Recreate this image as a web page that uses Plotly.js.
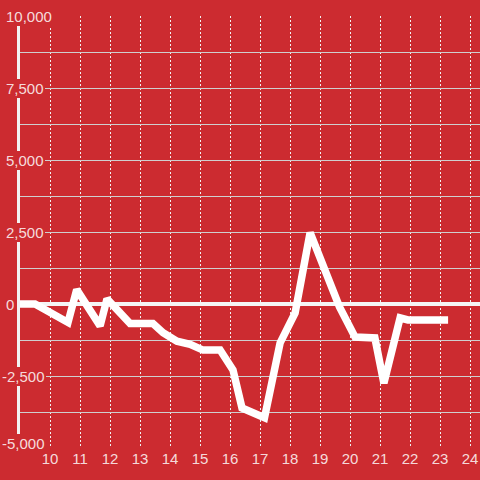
<!DOCTYPE html>
<html>
<head>
<meta charset="utf-8">
<script src="https://cdn.plot.ly/plotly-3.0.1.min.js"></script>
<style>
html,body{margin:0;padding:0;background:#cc2b30;}
#chart{width:480px;height:480px;}
</style>
</head>
<body>
<div id="chart"></div>
<script>
// Data
const xValues = [9.0, 9.5, 10.6, 10.89, 11.67, 11.9, 12.67, 13.43, 13.77, 14.23, 14.67, 15.1, 15.67, 16.1, 16.4, 17.15, 17.67, 18.17, 18.67, 19.17, 19.65, 20.17, 20.83, 21.13, 21.67, 21.93, 23.27];
const yValues = [0, 0, -640, 500, -760, 180, -680, -680, -1000, -1290, -1400, -1600, -1600, -2290, -3610, -3950, -1350, -310, 2480, 1100, -100, -1150, -1180, -2750, -480, -555, -555];

const yTickValues = [-5000, -2500, 0, 2500, 5000, 7500, 10000];
const yTickLabels = ['-5,000', '-2,500', '0', '2,500', '5,000', '7,500', '10,000'];
const yGridValues = [-5000, -3750, -2500, -1250, 0, 1250, 2500, 3750, 5000, 6250, 7500, 8750, 10000];
const xTickValues = [10, 11, 12, 13, 14, 15, 16, 17, 18, 19, 20, 21, 22, 23, 24];
const xTickLabels = ['10', '11', '12', '13', '14', '15', '16', '17', '18', '19', '20', '21', '22', '23', '24'];

const BG = '#cc2b30';
const LABEL = 'rgba(255,255,255,0.84)';
const FONT = '"Liberation Sans", Arial, sans-serif';
const Y_MIN = -5000, Y_MAX = 10000;

const trace = {
  x: xValues, y: yValues, type: 'scatter', mode: 'lines',
  line: {color: '#ffffff', width: 7.5, shape: 'linear'},
  hoverinfo: 'skip'
};

const plotLeft = 20, plotWidth = 460;
const annotations = yTickValues.map((v, i) => ({
  xref: 'paper', yref: 'y',
  x: ((v < 0 ? 1 : 5) - plotLeft) / plotWidth,
  y: v, xanchor: 'left', yanchor: 'middle',
  yshift: v === Y_MIN ? 5 : 0,
  text: yTickLabels[i], showarrow: false,
  bgcolor: BG, borderpad: 1, borderwidth: 0,
  font: {family: FONT, size: 15, color: LABEL}
}));

const layout = {
  width: 480, height: 480,
  margin: {l: 20, r: 0, t: 16, b: 32, pad: 0},
  paper_bgcolor: BG, plot_bgcolor: BG,
  showlegend: false,
  xaxis: {
    range: [9, 24.3333],
    tickmode: 'array', tickvals: xTickValues, ticktext: xTickLabels,
    showgrid: true, gridcolor: '#f2f2f2', gridwidth: 1, griddash: '2px,2px',
    zeroline: false, showline: false, ticks: '',
    tickfont: {family: FONT, size: 15, color: LABEL}
  },
  yaxis: {
    range: [Y_MIN, Y_MAX],
    tickmode: 'array', tickvals: yGridValues,
    showticklabels: false, ticks: '',
    showgrid: true, gridcolor: '#cfcfcf', gridwidth: 1,
    showline: true, linecolor: '#f2f2f2', linewidth: 3.5,
    zeroline: true, zerolinecolor: '#f5f5f5', zerolinewidth: 3.5
  },
  annotations: annotations
};

Plotly.newPlot('chart', [trace], layout, {staticPlot: true, displayModeBar: false});
</script>
</body>
</html>
